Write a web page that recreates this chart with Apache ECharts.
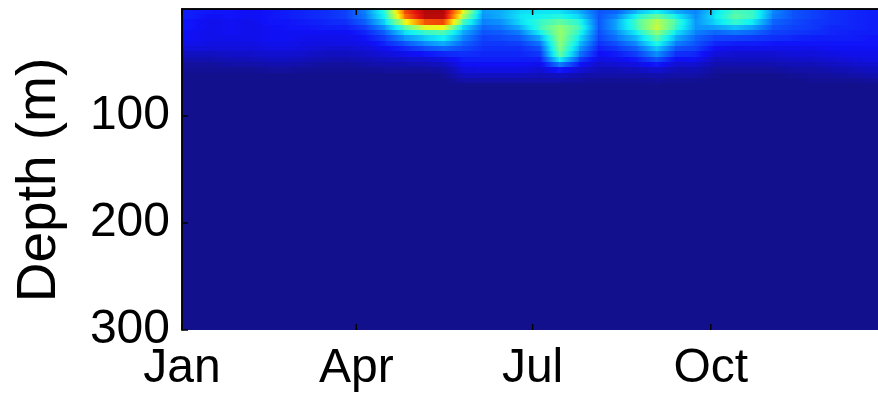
<!DOCTYPE html>
<html>
<head>
<meta charset="utf-8">
<script src="https://cdn.jsdelivr.net/npm/echarts@6/dist/echarts.min.js"></script>
<style>
html,body{margin:0;padding:0;background:#fff;}
#c{width:878px;height:398px;}
</style>
</head>
<body>
<div id="c"></div>
<script>
// Centre day (day of year) of each sampled profile
const sampleDays = [5,15,25,35,45,55,65,75,85,95,105,115,125,135,145,155,165,175,185,195,205,215,225,235,245,255,265,275,285,295,305,315,325,335,345,355];
// Top depth (m) of each depth bin; last bin runs to the bottom of the axis
const depthTops = [0,5,10,15,20,25,30,35,40,45,50,55,60,65,70];
// Normalised concentration (0..1 on colour scale), one profile per sample, top to bottom
const profiles = [
  [0.14,0.14,0.13,0.13,0.12,0.12,0.11,0.09,0.06,0.04,0.02,0.01,0,0,0],
  [0.13,0.12,0.11,0.11,0.11,0.11,0.10,0.09,0.06,0.04,0.02,0.01,0,0,0],
  [0.13,0.13,0.12,0.12,0.12,0.11,0.10,0.09,0.07,0.05,0.03,0.01,0,0,0],
  [0.12,0.12,0.11,0.11,0.11,0.11,0.10,0.09,0.07,0.05,0.03,0.01,0,0,0],
  [0.13,0.13,0.13,0.12,0.12,0.12,0.11,0.10,0.08,0.06,0.04,0.02,0,0,0],
  [0.14,0.14,0.13,0.13,0.12,0.12,0.11,0.10,0.08,0.06,0.04,0.02,0,0,0],
  [0.15,0.15,0.14,0.13,0.12,0.11,0.10,0.09,0.07,0.05,0.03,0.01,0,0,0],
  [0.16,0.16,0.15,0.14,0.12,0.11,0.10,0.08,0.06,0.04,0.02,0.01,0,0,0],
  [0.18,0.18,0.16,0.14,0.12,0.11,0.10,0.08,0.06,0.04,0.02,0.01,0,0,0],
  [0.26,0.25,0.22,0.18,0.15,0.13,0.11,0.09,0.07,0.05,0.03,0.01,0,0,0],
  [0.42,0.40,0.35,0.28,0.22,0.18,0.15,0.12,0.09,0.06,0.04,0.02,0,0,0],
  [0.80,0.76,0.60,0.45,0.35,0.27,0.20,0.15,0.11,0.07,0.04,0.02,0,0,0],
  [0.94,0.93,0.80,0.60,0.42,0.33,0.26,0.19,0.13,0.08,0.05,0.02,0,0,0],
  [0.94,0.93,0.82,0.62,0.45,0.38,0.30,0.22,0.15,0.10,0.06,0.03,0.01,0,0],
  [0.62,0.56,0.45,0.35,0.30,0.26,0.22,0.19,0.16,0.14,0.12,0.09,0.06,0.03,0],
  [0.28,0.27,0.25,0.22,0.20,0.18,0.17,0.16,0.15,0.14,0.12,0.10,0.06,0.03,0],
  [0.30,0.30,0.27,0.24,0.21,0.19,0.17,0.16,0.15,0.14,0.12,0.10,0.06,0.03,0],
  [0.35,0.36,0.35,0.30,0.25,0.21,0.18,0.16,0.15,0.14,0.12,0.10,0.06,0.03,0],
  [0.36,0.38,0.42,0.43,0.38,0.30,0.24,0.20,0.17,0.14,0.11,0.08,0.05,0.03,0],
  [0.36,0.40,0.47,0.52,0.53,0.53,0.52,0.51,0.48,0.38,0.25,0.14,0.06,0.03,0],
  [0.30,0.34,0.40,0.43,0.40,0.36,0.32,0.28,0.24,0.18,0.13,0.08,0.04,0.02,0],
  [0.20,0.20,0.20,0.20,0.19,0.18,0.16,0.14,0.12,0.10,0.07,0.05,0.03,0.01,0],
  [0.22,0.26,0.30,0.30,0.27,0.24,0.20,0.17,0.14,0.11,0.08,0.05,0.03,0.01,0],
  [0.32,0.40,0.45,0.44,0.38,0.32,0.27,0.22,0.18,0.14,0.10,0.06,0.03,0.01,0],
  [0.38,0.48,0.56,0.58,0.52,0.46,0.40,0.33,0.27,0.20,0.14,0.08,0.04,0.02,0],
  [0.30,0.38,0.44,0.42,0.36,0.30,0.25,0.20,0.16,0.12,0.08,0.05,0.03,0.01,0],
  [0.25,0.26,0.27,0.27,0.25,0.22,0.20,0.18,0.15,0.12,0.08,0.05,0.03,0.01,0],
  [0.35,0.36,0.34,0.28,0.22,0.18,0.15,0.12,0.09,0.06,0.04,0.02,0.01,0,0],
  [0.44,0.46,0.42,0.32,0.24,0.18,0.14,0.11,0.08,0.06,0.04,0.02,0,0,0],
  [0.42,0.42,0.36,0.28,0.22,0.17,0.14,0.11,0.08,0.06,0.04,0.02,0,0,0],
  [0.26,0.25,0.22,0.20,0.18,0.16,0.13,0.11,0.08,0.06,0.04,0.02,0,0,0],
  [0.20,0.20,0.19,0.18,0.17,0.15,0.13,0.11,0.09,0.07,0.05,0.03,0.01,0,0],
  [0.18,0.18,0.17,0.17,0.16,0.14,0.13,0.11,0.09,0.07,0.05,0.03,0.02,0.01,0],
  [0.16,0.16,0.16,0.15,0.15,0.14,0.13,0.12,0.10,0.08,0.06,0.04,0.02,0.01,0],
  [0.15,0.15,0.15,0.15,0.14,0.14,0.13,0.12,0.11,0.09,0.07,0.05,0.03,0.01,0],
  [0.14,0.14,0.14,0.14,0.14,0.13,0.13,0.12,0.11,0.10,0.08,0.06,0.04,0.02,0]
];
const monthTickDays = [0, 90, 181, 273];
const monthTickLabels = ['Jan', 'Apr', 'Jul', 'Oct'];
const depthTicks = [100, 200, 300];
const yearEnd = 365;
const depthMax = 300;
const yTitle = 'Depth (m)';

// jet colour map stops (evenly spaced over 0..1)
const jetStops = [[18,16,140],[16,16,248],[10,128,255],[16,244,244],[128,255,128],[248,248,16],[255,128,0],[228,16,16],[132,0,0]];
function jetColor(v) {
  v = Math.max(0, Math.min(1, v));
  const p = v * (jetStops.length - 1);
  const i = Math.min(jetStops.length - 2, Math.floor(p));
  const t = p - i;
  const a = jetStops[i], b = jetStops[i + 1];
  return 'rgb(' + [0, 1, 2].map(k => Math.round(a[k] + (b[k] - a[k]) * t)).join(',') + ')';
}
const FONT = '"Liberation Sans", Arial, Helvetica, sans-serif';

// Each item spans from one profile to the next at one depth bin: [x0, zTop, v0, x1, zBottom, v1]
const cells = [];
const nP = profiles.length;
for (let k = 0; k <= nP; k++) {
  const iL = Math.max(0, k - 1), iR = Math.min(nP - 1, k);
  const xL = k === 0 ? 0 : sampleDays[k - 1];
  const xR = k === nP ? yearEnd : sampleDays[k];
  for (let j = 0; j < depthTops.length; j++) {
    const z0 = depthTops[j];
    const z1 = j + 1 < depthTops.length ? depthTops[j + 1] : depthMax;
    cells.push([xL, z0, profiles[iL][j], xR, z1, profiles[iR][j]]);
  }
}
const TICK = 6;
const tickLine = {stroke: '#000', lineWidth: 1.5};

const chart = echarts.init(document.getElementById('c'), null, {renderer: 'canvas'});
const axisLineStyle = {color: '#000', width: 1.5};
chart.setOption({
  backgroundColor: '#fff',
  animation: false,
  grid: {left: 182, top: 9, width: 707, height: 321, containLabel: false, outerBoundsMode: 'none'},
  xAxis: [{
    type: 'value', min: 0, max: yearEnd, position: 'bottom', z: 5,
    axisLine: {show: true, lineStyle: axisLineStyle},
    axisTick: {show: false},
    axisLabel: {
      customValues: monthTickDays, fontSize: 48, color: '#000', fontFamily: FONT, margin: 15,
      formatter: v => monthTickLabels[monthTickDays.indexOf(v)] || ''
    },
    splitLine: {show: false}
  }, {
    type: 'value', min: 0, max: yearEnd, position: 'top', z: 5,
    axisLine: {show: true, lineStyle: axisLineStyle},
    axisTick: {show: false},
    axisLabel: {show: false},
    splitLine: {show: false}
  }],
  yAxis: [{
    type: 'value', min: 0, max: depthMax, interval: 100, inverse: true, position: 'left', z: 5,
    axisLine: {show: true, lineStyle: axisLineStyle},
    axisTick: {show: false},
    axisLabel: {customValues: depthTicks, fontSize: 48, color: '#000', fontFamily: FONT, margin: 12},
    splitLine: {show: false}
  }, {
    type: 'value', min: 0, max: depthMax, interval: 100, inverse: true, position: 'right', z: 5,
    axisLine: {show: true, lineStyle: axisLineStyle},
    axisTick: {show: false},
    axisLabel: {show: false},
    splitLine: {show: false}
  }],
  graphic: [{
    type: 'text', x: 40, y: 180, rotation: Math.PI / 2,
    style: {text: yTitle, font: '55px ' + FONT, fill: '#000', textAlign: 'center', textVerticalAlign: 'middle'}
  }],
  series: [{
    type: 'custom',
    xAxisIndex: 0, yAxisIndex: 0,
    clip: true, z: 1,
    encode: {x: [0, 3], y: [1, 4]},
    data: cells,
    renderItem: function (params, api) {
      const a = api.coord([api.value(0), api.value(1)]);
      const b = api.coord([api.value(3), api.value(4)]);
      const v0 = api.value(2), v1 = api.value(5);
      const stops = [];
      for (let s = 0; s <= 8; s++) {
        const t = s / 8;
        stops.push({offset: t, color: jetColor(v0 + (v1 - v0) * t)});
      }
      const x0 = Math.floor(a[0]), y0 = Math.floor(a[1]);
      return {
        type: 'rect',
        shape: {x: x0, y: y0, width: Math.ceil(b[0]) - x0 + 1, height: Math.ceil(b[1]) - y0 + 1},
        style: {fill: new echarts.graphic.LinearGradient(0, 0, 1, 0, stops)}
      };
    }
  }, {
    // inward month ticks on bottom and top edges
    type: 'custom', xAxisIndex: 0, yAxisIndex: 0, clip: false, z: 10, silent: true,
    encode: {x: 0},
    data: monthTickDays.map(d => [d]),
    renderItem: function (params, api) {
      const bot = api.coord([api.value(0), depthMax]);
      const top = api.coord([api.value(0), 0]);
      return {type: 'group', children: [
        {type: 'line', shape: {x1: bot[0], y1: bot[1], x2: bot[0], y2: bot[1] - TICK}, style: tickLine},
        {type: 'line', shape: {x1: top[0], y1: top[1], x2: top[0], y2: top[1] + TICK}, style: tickLine}
      ]};
    }
  }, {
    // inward depth ticks on left edge
    type: 'custom', xAxisIndex: 0, yAxisIndex: 0, clip: false, z: 10, silent: true,
    encode: {y: 0},
    data: depthTicks.map(d => [d]),
    renderItem: function (params, api) {
      const p = api.coord([0, api.value(0)]);
      return {type: 'line', shape: {x1: p[0], y1: p[1], x2: p[0] + TICK, y2: p[1]}, style: tickLine};
    }
  }]
});
</script>
</body>
</html>
